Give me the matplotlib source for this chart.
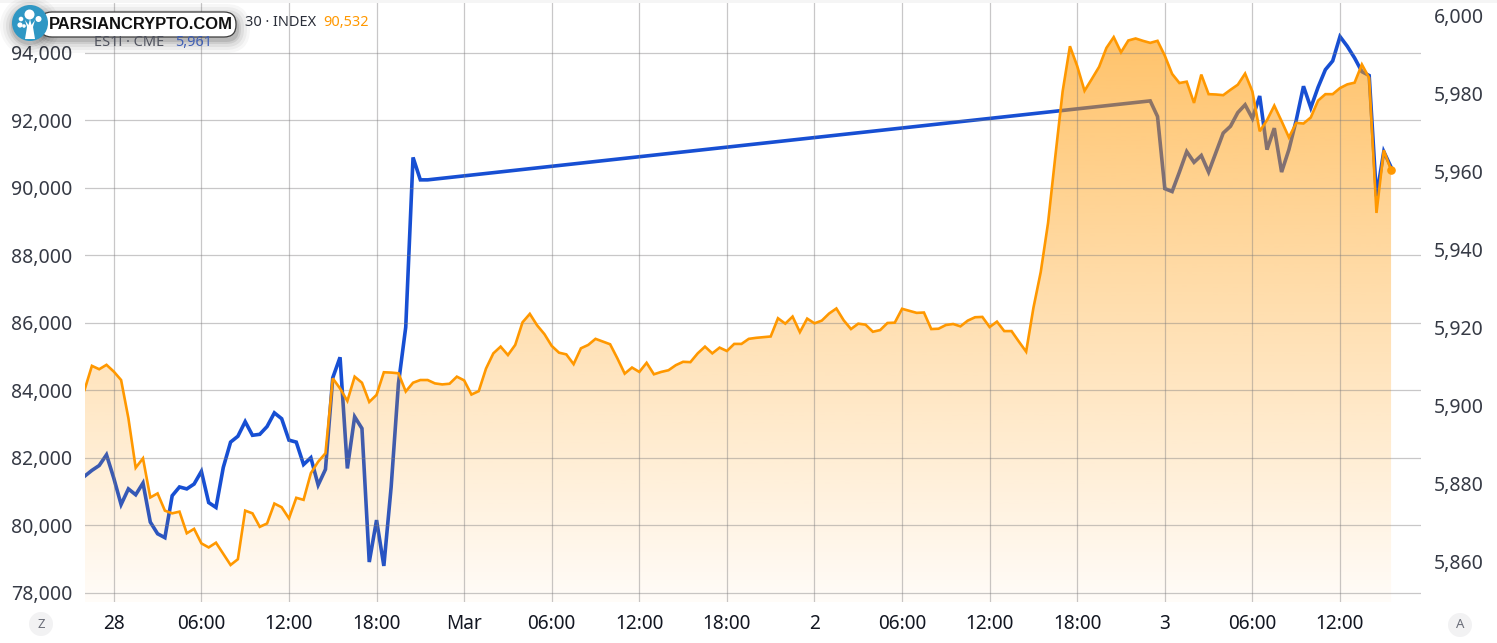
import numpy as np
import matplotlib
matplotlib.use('Agg')
import matplotlib.pyplot as plt
from matplotlib.patches import Circle, FancyBboxPatch, Polygon, Rectangle

plt.rcParams['font.family'] = ['Noto Sans', 'DejaVu Sans']

# half-hourly closes, index 0 is 22:00 on the day before the 28th
orange_vals = [
    84020, 84730, 84630, 84760, 84560, 84310, 83180, 81710, 81990, 80830,
    80950, 80440, 80360, 80410, 79770, 79900, 79470, 79350, 79490, 79160,
    78830, 79000, 80440, 80360, 79960, 80060, 80650, 80540, 80210, 80820,
    80760, 81550, 81890, 82140, 84360, 84060, 83690, 84410, 84230, 83660,
    83870, 84540, 84530, 84510, 83970, 84230, 84310, 84310, 84210, 84180,
    84200, 84410,
    84300, 83880, 83980, 84650, 85100, 85300, 85050, 85350, 86020, 86270,
    85930, 85670, 85320, 85120, 85070, 84780, 85250, 85350, 85530, 85450,
    85370, 84950, 84500, 84680, 84550, 84820, 84480, 84550, 84600, 84750,
    84850, 84840, 85100, 85300, 85100, 85270, 85170, 85380, 85380, 85530,
    85560, 85580, 85600, 86140, 85980, 86190, 85730, 86130, 85990, 86070,
    86280, 86430, 86080, 85820, 85980, 85950, 85740, 85790, 86000, 86010,
    86420, 86360, 86300, 86310, 85820, 85830, 85940, 85970, 85900, 86070,
    86170, 86180, 85880, 86040, 85760, 85760, 85450, 85150, 86450, 87510,
    88960, 90940, 92860, 94200, 93610, 92880, 93230, 93590, 94150, 94470,
    94020, 94370, 94430, 94360, 94300, 94360, 93920, 93380, 93110, 93150,
    92520, 93360, 92780, 92770, 92750, 92910, 93060, 93390, 92860, 91680,
    92010, 92440, 91980, 91500, 91930, 91910, 92090, 92590, 92780, 92780,
    92960, 93070, 93120, 93660, 93260, 89260, 91120, 90532,
]

# futures are closed over the weekend, so the line only has two stretches
blue_first = [
    5881.75, 5883.25, 5884.5, 5887.25, 5881.25, 5874.5, 5878.5, 5877.0, 5880.0, 5870.0,
    5867.0, 5866.0, 5876.75, 5879.0, 5878.5, 5879.75, 5883.0, 5875.0, 5873.75, 5884.0,
    5890.5, 5892.0, 5895.75, 5892.25, 5892.5, 5894.5, 5898.0, 5896.5, 5891.0, 5890.5,
    5884.75, 5886.5, 5879.5, 5883.5, 5907.0, 5912.25, 5883.75, 5897.0, 5894.0, 5859.75,
    5870.5, 5858.75, 5879.0, 5905.5, 5920.0, 5963.5, 5957.75, 5957.75,
]
blue_last = [
    5978.0, 5974.0, 5955.5, 5954.75, 5959.75, 5965.0, 5962.25, 5964.0, 5959.75, 5964.75,
    5969.75, 5971.5, 5975.0, 5977.0, 5973.5, 5979.25, 5965.5, 5971.0, 5959.75, 5965.5,
    5973.0, 5981.75, 5976.25, 5981.5, 5986.0, 5988.25, 5994.5, 5992.0, 5989.0, 5985.5,
    5984.5, 5953.5, 5965.0, 5961.0,
]
blue_last_start = 146

left_ticks = [78000, 80000, 82000, 84000, 86000, 88000, 90000, 92000, 94000]
right_ticks = [5860, 5880, 5900, 5920, 5940, 5960, 5980, 6000]
time_ticks = [0, 6, 12, 18, 24, 30, 36, 42, 48, 54, 60, 66, 72, 78, 84]
time_labels = ['28', '06:00', '12:00', '18:00', 'Mar', '06:00', '12:00', '18:00',
               '2', '06:00', '12:00', '18:00', '3', '06:00', '12:00']

W, H = 1497, 643
ORANGE = '#ff9800'
BLUE = '#174fd3'

hours = np.arange(len(orange_vals)) * 0.5 - 2
blue_idx = list(range(len(blue_first))) + list(range(blue_last_start, blue_last_start + len(blue_last)))
blue_hours = hours[blue_idx]
blue_vals = blue_first + blue_last

fig = plt.figure(figsize=(W / 100, H / 100), dpi=100)
# axes box in pixels: x 84..1421, y 3..602
ax = fig.add_axes([84.6 / W, (H - 602) / H, (1421 - 84.6) / W, 599 / H])
ax2 = ax.twinx()
ax.set_zorder(2)
ax2.set_zorder(1)
ax.patch.set_visible(False)

ax2.plot(blue_hours, blue_vals, color=BLUE, lw=2.6, solid_joinstyle='miter', zorder=2)

# gradient under the orange line, from about 0.6 alpha to nearly nothing
rgba = np.zeros((256, 1, 4))
rgba[..., :3] = matplotlib.colors.to_rgb(ORANGE)
rgba[..., 3] = np.linspace(0.6, 0.03, 256)[:, None]
ylo, yhi = 77733, 95481
grad_top = 94950
im = ax.imshow(rgba, extent=[hours[0], hours[-1], ylo, grad_top], origin='upper',
               aspect='auto', zorder=2, interpolation='bilinear')
verts = list(zip(hours, orange_vals)) + [(hours[-1], ylo), (hours[0], ylo)]
clip = Polygon(verts, closed=True, transform=ax.transData, fc='none', ec='none')
ax.add_patch(clip)
im.set_clip_path(clip)

ax.plot(hours, orange_vals, color=ORANGE, lw=1.9, zorder=3, solid_joinstyle='miter')
ax.plot(hours[-1], orange_vals[-1], 'o', color=ORANGE, ms=5.2, zorder=4)

ax.set_xlim(-2, 89.55)
ax.set_ylim(ylo, yhi)
ax2.set_ylim(5849.5, 6003.1)

ax.set_yticks(left_ticks)
ax.set_yticklabels([f'{v:,}' for v in left_ticks])
ax2.set_yticks(right_ticks)
ax2.set_yticklabels([f'{v:,}' for v in right_ticks])
ax.set_xticks(time_ticks)
ax.set_xticklabels(time_labels)

# grid sits over the fill, translucent so it darkens the orange
ax.grid(True, color='#7d7b7d', alpha=0.42, lw=0.9)
ax.set_axisbelow(False)
for a in (ax, ax2):
    for s in a.spines.values():
        s.set_visible(False)
ax.tick_params(axis='y', length=0, pad=9, labelsize=14, labelcolor='#363a45')
ax2.tick_params(axis='y', length=0, pad=9, labelsize=14, labelcolor='#363a45')
ax.tick_params(axis='x', length=0, pad=8.5, labelsize=13.7, labelcolor='#131722')
ax.get_xticklabels()[4].set_fontweight('semibold')

# pixel-coordinate overlay for the legend, watermark and corner buttons
ov = fig.add_axes([0, 0, 1, 1], zorder=5)
ov.set_xlim(0, W)
ov.set_ylim(H, 0)
ov.axis('off')
ov.add_patch(Rectangle((0, 0), W, 2.5, fc='#f5f5f5', ec='none'))

ov.text(245, 22, '30 · INDEX', fontsize=10.5, color='#2a2e39', va='center')
ov.text(323, 22, '90,532', fontsize=10.4, color=ORANGE, va='center')
ov.text(94, 43, 'ES1! · CME', fontsize=10.5, color='#50535e', va='center')
ov.text(175, 43, '5,961', fontsize=10.4, color='#3f5fb5', va='center')

for cx, cy, s in [(41, 624, 'Z'), (1460, 625, 'A')]:
    ov.add_patch(Circle((cx, cy), 12, fc='#f2f2f3', ec='none'))
    ov.text(cx, cy, s, fontsize=9.5, color='#6a6d78', ha='center', va='center')

# watermark: soft shadow first, then pill, disc and tree mark
for grow, a in [(12, 0.03), (9, 0.04), (6, 0.06), (3, 0.08), (1, 0.1)]:
    ov.add_patch(FancyBboxPatch((40 - grow + 2, 12 - grow + 4), 196 + 2 * grow, 25 + 2 * grow,
                                boxstyle=f'round,pad=0,rounding_size={12 + grow}',
                                fc='black', ec='none', alpha=a))
    ov.add_patch(Circle((30, 26), 18 + grow, fc='black', ec='none', alpha=a))
ov.add_patch(FancyBboxPatch((40, 12), 196, 25, boxstyle='round,pad=0,rounding_size=12',
                            fc='white', ec='#3c3c3c', lw=0.9))
ov.add_patch(Circle((30, 23), 18, fc='#2f97c4', ec='none'))
ov.add_patch(Polygon([(25, 39), (27, 27), (25, 20), (28.5, 25), (30, 19), (31.5, 25),
                      (35, 20), (33, 27), (35, 39)], fc='white', ec='none'))
for cx, cy, r in [(29.5, 14.5, 5), (21, 19, 2.3), (38.5, 19, 3), (20, 25, 2.6), (24, 26, 1.8)]:
    ov.add_patch(Circle((cx, cy), r, fc='white', ec='none'))
ov.text(49, 24.5, 'PARSIANCRYPTO.COM', fontsize=11.9, fontweight='bold',
        family='Liberation Sans', color='#111111', va='center')

fig.savefig('out.png', dpi=100)
